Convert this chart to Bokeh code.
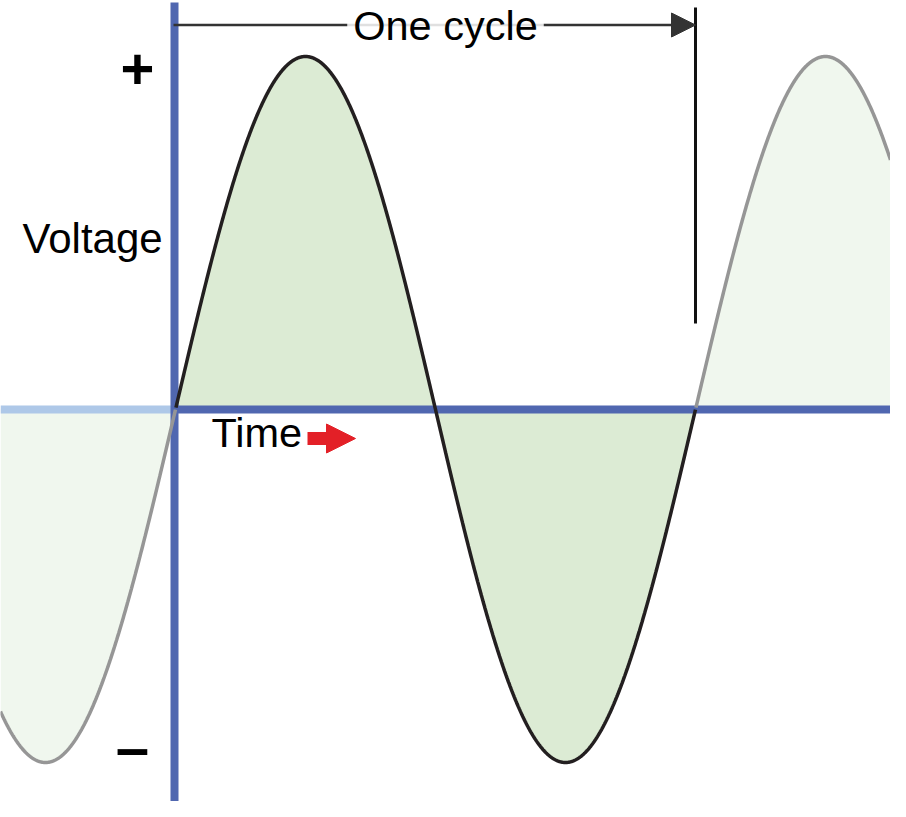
import numpy as np
from bokeh.plotting import figure
from bokeh.models import Range1d, Label, Arrow, NormalHead
from bokeh.embed import file_html
from bokeh.resources import INLINE

# ---------------- data ----------------
PERIOD_DEG = 360.0        # one full cycle, in degrees of phase
AMPLITUDE = 1.0           # peak voltage (normalised)
CYCLE_START = 0.0         # highlighted cycle starts here
CYCLE_END = 360.0         # ... and ends here
voltage_label = "Voltage"
time_label = "Time"
plus_label = "+"
minus_label = "–"
cycle_label = "One cycle"

# ---------------- geometry (reference pixels -> data) ----------------
ORIGIN_PX, ZERO_PY = 175.0, 409.0
PX_PER_CYCLE, PX_PER_UNIT = 520.0, 353.0


def X(px):
    return (px - ORIGIN_PX) / PX_PER_CYCLE * PERIOD_DEG


def Y(py):
    return (ZERO_PY - py) / PX_PER_UNIT


W, H = 890, 801
XMIN, XMAX = X(0), X(W)
YMAX, YMIN = Y(0), Y(H)

FONT = "Liberation Sans"
AXIS_BLUE = "#5067b0"
AXIS_LIGHT = "#aec8e8"
FILL_MAIN = "#dcebd4"
FILL_SIDE = "#f0f7ee"
CURVE_MAIN = "#231f20"
CURVE_SIDE = "#969696"

p = figure(width=W, height=H, output_backend="svg", toolbar_location=None,
           x_range=Range1d(XMIN, XMAX), y_range=Range1d(YMIN, YMAX),
           x_axis_type=None, y_axis_type=None, min_border=0)
p.outline_line_color = None
p.grid.visible = False
p.background_fill_color = "white"

t = np.linspace(XMIN, XMAX, 2000)
v = AMPLITUDE * np.sin(np.radians(t) * 360.0 / PERIOD_DEG)
main = (t >= CYCLE_START) & (t <= CYCLE_END)
left = t <= CYCLE_START
right = t >= CYCLE_END

# fills
p.varea(x=t[left], y1=0, y2=v[left], fill_color=FILL_SIDE)
p.varea(x=t[right], y1=0, y2=v[right], fill_color=FILL_SIDE)
p.varea(x=t[main], y1=0, y2=v[main], fill_color=FILL_MAIN)

# axes (drawn as lines)
p.segment(x0=[XMIN], y0=[0], x1=[CYCLE_START], y1=[0], line_color=AXIS_LIGHT, line_width=8)
p.segment(x0=[CYCLE_START], y0=[0], x1=[XMAX], y1=[0], line_color=AXIS_BLUE, line_width=8)
p.segment(x0=[X(174)], y0=[Y(2)], x1=[X(174)], y1=[YMIN],
          line_color=AXIS_BLUE, line_width=8)

# curves
p.line(t[left], v[left], line_color=CURVE_SIDE, line_width=3.5)
p.line(t[right], v[right], line_color=CURVE_SIDE, line_width=3.5)
p.line(t[main], v[main], line_color=CURVE_MAIN, line_width=3.5)

# end-of-cycle marker
p.segment(x0=[CYCLE_END], y0=[Y(7)], x1=[CYCLE_END], y1=[Y(323)], line_color="#111111", line_width=3)

# "One cycle" dimension arrow
p.add_layout(Arrow(x_start=X(173), y_start=Y(24.5), x_end=CYCLE_END, y_end=Y(24.5),
                   line_color="#333333", line_width=2.5,
                   end=NormalHead(size=24, fill_color="#333333", line_color="#333333", line_width=1)))
p.add_layout(Label(x=X(445), y=Y(25), text=cycle_label, text_font=FONT, text_font_size="41.5px",
                   text_align="center", text_baseline="alphabetic", text_color="black",
                   background_fill_color="white", background_fill_alpha=0.85, padding=6))

# time arrow (red)
p.add_layout(Arrow(x_start=X(307), y_start=Y(438), x_end=X(355), y_end=Y(438),
                   line_color="#e32027", line_width=13, line_cap="butt",
                   end=NormalHead(size=29, fill_color="#e32027", line_color="#e32027", line_width=1)))

# texts
p.add_layout(Label(x=X(22), y=Y(237.5), text=voltage_label, text_font=FONT, text_font_size="42px",
                   text_align="left", text_baseline="alphabetic", text_color="black"))
p.add_layout(Label(x=X(211), y=Y(432), text=time_label, text_font=FONT, text_font_size="41.5px",
                   text_align="left", text_baseline="alphabetic", text_color="black"))
p.add_layout(Label(x=X(137), y=Y(68), text=plus_label, text_font=FONT, text_font_size="58px",
                   text_font_style="bold", text_align="center", text_baseline="alphabetic",
                   text_color="black"))
p.add_layout(Label(x=X(132), y=Y(747), text=minus_label, text_font=FONT, text_font_size="60px",
                   text_font_style="bold", text_align="center", text_baseline="alphabetic",
                   text_color="black"))

open("out.html", "w").write(file_html(p, INLINE))
